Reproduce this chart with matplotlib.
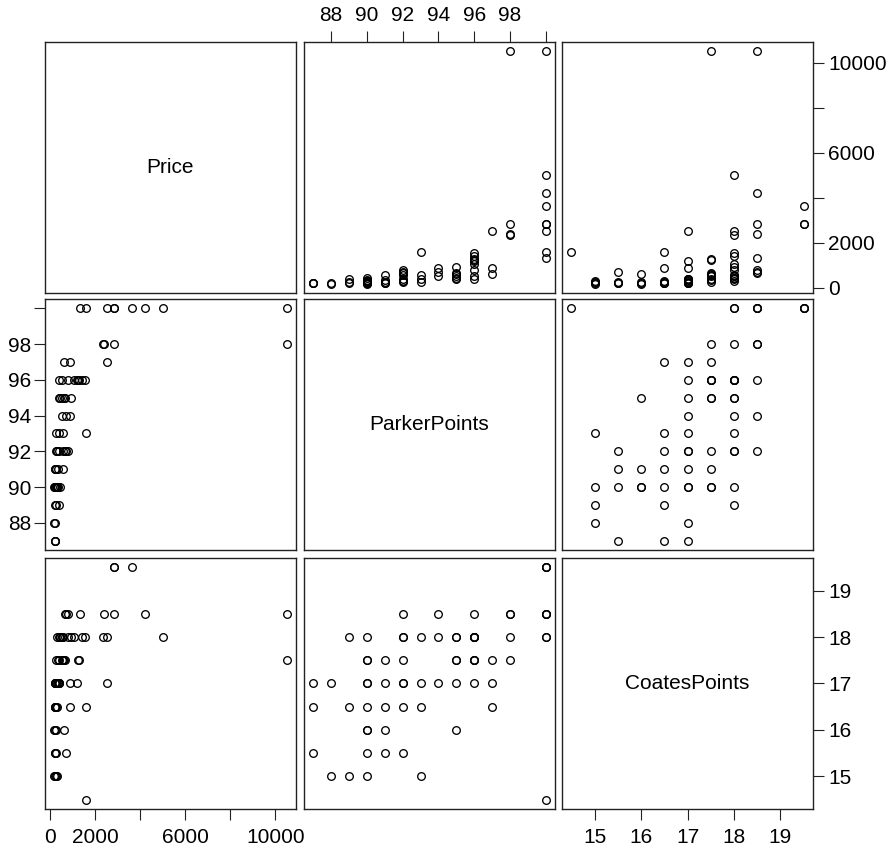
import matplotlib
matplotlib.use("Agg")
import matplotlib.pyplot as plt
import numpy as np

plt.rcParams['font.family'] = ['Liberation Sans', 'DejaVu Sans']

# Bordeaux wines: (Price, ParkerPoints, CoatesPoints)
price = [10500, 5000, 4200, 3650, 2850, 2850, 2500, 1600, 1300,
         10500, 2850, 2400, 2350,
         2500, 890, 590,
         1550, 1400, 1280, 1250, 1200, 1040, 800, 520, 400,
         920, 650, 530, 450, 380, 620,
         860, 700, 520,
         1600, 560, 400, 270,
         650, 780, 300, 560, 410, 250, 300, 700,
         560, 340, 190, 200, 250,
         420, 350, 250, 300, 200, 230, 250, 180, 220, 280,
         380, 250, 200,
         190, 180,
         220, 200, 230]
parker = [100, 100, 100, 100, 100, 100, 100, 100, 100,
          98, 98, 98, 98,
          97, 97, 97,
          96, 96, 96, 96, 96, 96, 96, 96, 96,
          95, 95, 95, 95, 95, 95,
          94, 94, 94,
          93, 93, 93, 93,
          92, 92, 92, 92, 92, 92, 92, 92,
          91, 91, 91, 91, 91,
          90, 90, 90, 90, 90, 90, 90, 90, 90, 90,
          89, 89, 89,
          88, 88,
          87, 87, 87]
coates = [18.5, 18, 18.5, 19.5, 19.5, 19.5, 18, 14.5, 18.5,
          17.5, 18.5, 18.5, 18,
          17, 16.5, 17.5,
          18, 18, 17.5, 17.5, 17, 18, 18.5, 18, 17.5,
          18, 17.5, 17.5, 18, 17, 16,
          17, 18.5, 18,
          16.5, 18, 17, 15,
          18.5, 18, 18, 17.5, 17, 17, 16.5, 15.5,
          17.5, 17, 16.5, 16, 15.5,
          18, 17.5, 17.5, 17, 17, 16.5, 16, 16, 15.5, 15,
          18, 16.5, 15,
          17, 15,
          17, 16.5, 15.5]

var_names = ['Price', 'ParkerPoints', 'CoatesPoints']
data = [np.array(price, float), np.array(parker, float), np.array(coates, float)]

price_ticks = [0, 2000, 4000, 6000, 8000, 10000]
price_labels = ['0', '2000', '', '6000', '', '10000']
parker_ticks = [88, 90, 92, 94, 96, 98, 100]
parker_labels = ['88', '90', '92', '94', '96', '98', '']
coates_ticks = [15, 16, 17, 18, 19]
coates_labels = ['15', '16', '17', '18', '19']
ticks = [(price_ticks, price_labels), (parker_ticks, parker_labels), (coates_ticks, coates_labels)]

W, H = 892, 849
fig = plt.figure(figsize=(W / 100, H / 100), dpi=100)
lefts = [45, 304, 562]
tops = [42, 299, 558]
pw, ph = 251, 251

def lims(v):
    r = v.max() - v.min()
    return v.min() - 0.04 * r, v.max() + 0.04 * r

FS = 15
for i in range(3):
    for j in range(3):
        ax = fig.add_axes([lefts[j] / W, 1 - (tops[i] + ph) / H, pw / W, ph / H])
        for s in ax.spines.values():
            s.set_linewidth(1.0)
            s.set_color('#222222')
        ax.tick_params(length=8, width=0.8, color='#222222', labelsize=FS,
                       bottom=False, top=False, left=False, right=False,
                       labelbottom=False, labeltop=False, labelleft=False, labelright=False)
        x, y = data[j], data[i]
        ax.set_xlim(*lims(x)); ax.set_ylim(*lims(y))
        ax.set_xticks(ticks[j][0]); ax.set_xticklabels(ticks[j][1])
        ax.set_yticks(ticks[i][0]); ax.set_yticklabels(ticks[i][1])
        if i == j:
            ax.text(0.5, 0.5, var_names[i], ha='center', va='center', fontsize=FS,
                    transform=ax.transAxes)
        else:
            ax.plot(x, y, linestyle='none', marker='o', markersize=5.5,
                    markerfacecolor='none', markeredgecolor='black', markeredgewidth=0.95)
        # x axes
        if i == 2 and j in (0, 2):
            ax.tick_params(axis='x', bottom=True, labelbottom=True, pad=6)
        if i == 0 and j == 1:
            ax.tick_params(axis='x', top=True, labeltop=True, pad=4)
        # y axes
        if j == 0 and i == 1:
            ax.tick_params(axis='y', left=True, labelleft=True, pad=2)
        if j == 2 and i in (0, 2):
            ax.tick_params(axis='y', right=True, labelright=True, pad=3)

fig.savefig('out.png', dpi=100)
